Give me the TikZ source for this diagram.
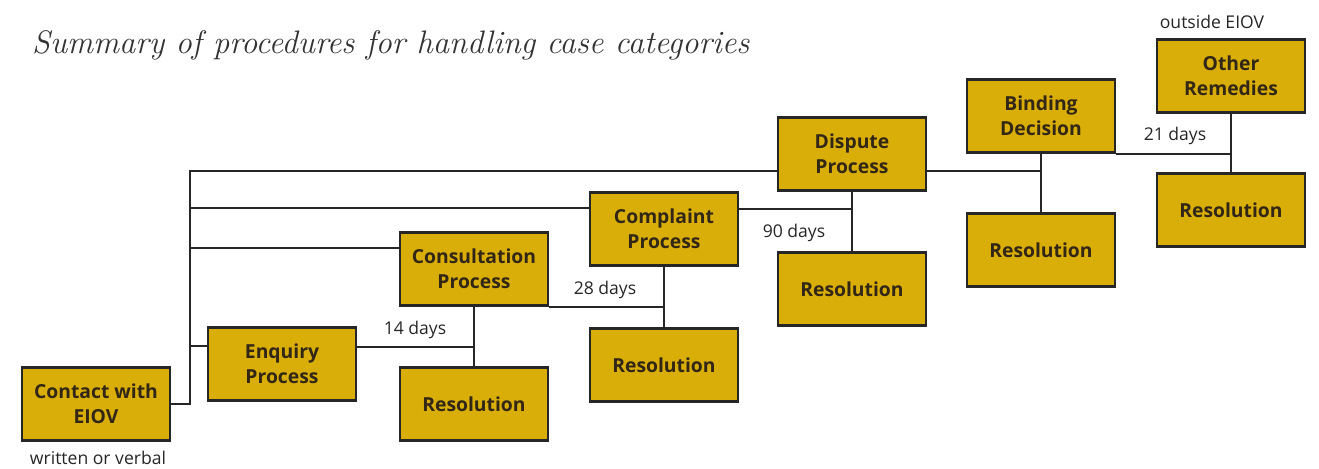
\documentclass[tikz,border=0pt]{standalone}
\usepackage{fontspec}
\setsansfont{Open Sans}
\usetikzlibrary{positioning}
\definecolor{boxgold}{RGB}{217,174,8}
\definecolor{boxtext}{RGB}{50,38,22}
\tikzstyle{proc} = [rectangle, minimum width=2.96cm, minimum height=1.46cm, text centered, align=center, draw=black!85, line width=1.4pt, fill=boxgold, text=boxtext, font=\sffamily\bfseries\fontsize{11}{14.5}\selectfont]
\tikzstyle{link} = [line width=1.1pt, draw=black!85]
\tikzstyle{days} = [font=\sffamily\fontsize{10}{12}\selectfont, text=black!85]

\begin{document}
\begin{tikzpicture}[x=0.02cm, y=-0.02cm]
\useasboundingbox (0,0) rectangle (1319,468);

\node (title) [anchor=west, font=\itshape\fontsize{18.5}{22}\selectfont, text=black!80] at (26,45) {Summary of procedures for handling case categories};

\node (contact) [proc] at (96,404) {Contact with\\EIOV};
\node (enquiry) [proc] at (282,364) {Enquiry\\Process};
\node (enqres) [proc] at (474,404) {Resolution};
\node (consult) [proc] at (474,269) {Consultation\\Process};
\node (conres) [proc] at (664,365) {Resolution};
\node (complaint) [proc] at (664,229) {Complaint\\Process};
\node (compres) [proc] at (852,289) {Resolution};
\node (dispute) [proc] at (852,154) {Dispute\\Process};
\node (dispres) [proc] at (1041,250) {Resolution};
\node (binding) [proc] at (1041,116) {Binding\\Decision};
\node (remedies) [proc] at (1231,76) {Other\\Remedies};
\node (bindres) [proc] at (1231,210) {Resolution};

\node (verbal) [days] at (98,458) {written or verbal};
\node (outside) [days] at (1212,22) {outside EIOV};

% trunk from the first contact
\coordinate (trunk) at (190,171);
\coordinate (b2) at (190,208);
\coordinate (b3) at (190,248);
\coordinate (b4) at (190,346);
\draw [link] (contact.east) -| (trunk) -- (trunk -| dispute.west);
\draw [link] (b2) -- (b2 -| complaint.west);
\draw [link] (b3) -- (b3 -| consult.west);
\draw [link] (b4) -- (b4 -| enquiry.west);

% enquiry and consultation
\coordinate (e1) at (474,347);
\draw [link] (e1 -| enquiry.east) -- (e1);
\draw [link] (consult.south) -- (enqres.north);
\node (d14) [days] at (415,330) {14 days};

% consultation and complaint
\draw [link] (consult.south east) -- (consult.south east -| complaint.south);
\draw [link] (complaint.south) -- (conres.north);
\node (d28) [days] at (605,290) {28 days};

% complaint and dispute
\coordinate (c1) at (852,209);
\draw [link] (c1 -| complaint.east) -- (c1);
\draw [link] (dispute.south) -- (compres.north);
\node (d90) [days] at (794,233) {90 days};

% dispute and binding decision
\coordinate (d1) at (1041,171);
\draw [link] (d1 -| dispute.east) -- (d1);
\draw [link] (binding.south) -- (dispres.north);

% binding decision and other remedies
\draw [link] (binding.south east) -- (binding.south east -| remedies.south);
\draw [link] (remedies.south) -- (bindres.north);
\node (d21) [days] at (1175,136) {21 days};
\end{tikzpicture}
\end{document}
